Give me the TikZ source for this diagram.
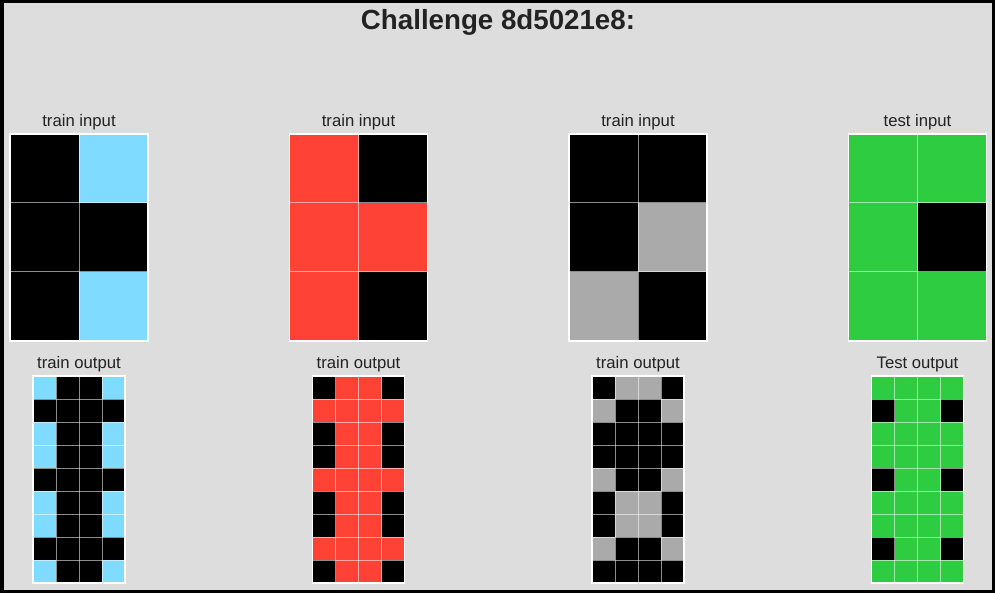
\documentclass[tikz,border=0pt]{standalone}
\usepackage{fontspec}
\setmainfont{Liberation Sans}
\definecolor{bgc}{HTML}{DDDDDD}
\definecolor{txt}{HTML}{222222}
\definecolor{cK}{HTML}{000000}
\definecolor{cB}{HTML}{7FDBFF}
\definecolor{cR}{HTML}{FF4136}
\definecolor{cG}{HTML}{AAAAAA}
\definecolor{cN}{HTML}{2ECC40}
\tikzset{
  lbl/.style={text=txt, font=\fontsize{16.7}{19}\selectfont, anchor=base, inner sep=0pt},
  ttl/.style={text=txt, font=\fontsize{27.7}{31}\selectfont\bfseries, anchor=base, inner sep=0pt},
  gridln/.style={draw=white, draw opacity=0.55, line width=1pt},
  gridbd/.style={draw=white, line width=1.5pt},
}
% \drawgrid{x0}{y0}{cell}{ncols}{nrows}{rows}
\newcommand{\drawgrid}[6]{%
  \foreach \rw [count=\r from 0] in {#6}{%
    \foreach \cl [count=\c from 0] in \rw{%
      \fill[\cl] ({#1+\c*#3},{#2+\r*#3}) rectangle ++(#3,#3);
    }
  }
  \foreach \i in {1,...,\numexpr#4-1\relax}{\draw[gridln] ({#1+\i*#3},#2) -- ++(0,{#5*#3});}
  \foreach \j in {1,...,\numexpr#5-1\relax}{\draw[gridln] (#1,{#2+\j*#3}) -- ++({#4*#3},0);}
  \draw[gridbd] (#1,#2) rectangle ++({#4*#3},{#5*#3});
}
\begin{document}
\begin{tikzpicture}[x=1pt,y=-1pt]
\fill[bgc] (0,0) rectangle (995,593);
\draw[black, line width=3.5pt] (1.75,1.75) rectangle (993.25,591.25);
\useasboundingbox (0,0) rectangle (995,593);
\node[ttl] (title) at (498,29.5) {Challenge 8d5021e8:};
% inputs
\node[lbl] (l1) at (79,126.5) {train input};
\node[lbl] (l2) at (358.5,126.5) {train input};
\node[lbl] (l3) at (638,126.5) {train input};
\node[lbl] (l4) at (917.5,126.5) {test input};
\drawgrid{10}{134}{69}{2}{3}{{cK,cB},{cK,cK},{cK,cB}}
\drawgrid{289.5}{134}{69}{2}{3}{{cR,cK},{cR,cR},{cR,cK}}
\drawgrid{569}{134}{69}{2}{3}{{cK,cK},{cK,cG},{cG,cK}}
\drawgrid{848.5}{134}{69}{2}{3}{{cN,cN},{cN,cK},{cN,cN}}
% outputs
\node[lbl] (o1) at (79,368.5) {train output};
\node[lbl] (o2) at (358.5,368.5) {train output};
\node[lbl] (o3) at (638,368.5) {train output};
\node[lbl] (o4) at (917.5,368.5) {Test output};
\drawgrid{33}{376}{23}{4}{9}{{cB,cK,cK,cB},{cK,cK,cK,cK},{cB,cK,cK,cB},{cB,cK,cK,cB},{cK,cK,cK,cK},{cB,cK,cK,cB},{cB,cK,cK,cB},{cK,cK,cK,cK},{cB,cK,cK,cB}}
\drawgrid{312.5}{376}{23}{4}{9}{{cK,cR,cR,cK},{cR,cR,cR,cR},{cK,cR,cR,cK},{cK,cR,cR,cK},{cR,cR,cR,cR},{cK,cR,cR,cK},{cK,cR,cR,cK},{cR,cR,cR,cR},{cK,cR,cR,cK}}
\drawgrid{592}{376}{23}{4}{9}{{cK,cG,cG,cK},{cG,cK,cK,cG},{cK,cK,cK,cK},{cK,cK,cK,cK},{cG,cK,cK,cG},{cK,cG,cG,cK},{cK,cG,cG,cK},{cG,cK,cK,cG},{cK,cK,cK,cK}}
\drawgrid{871.5}{376}{23}{4}{9}{{cN,cN,cN,cN},{cK,cN,cN,cK},{cN,cN,cN,cN},{cN,cN,cN,cN},{cK,cN,cN,cK},{cN,cN,cN,cN},{cN,cN,cN,cN},{cK,cN,cN,cK},{cN,cN,cN,cN}}
\end{tikzpicture}
\end{document}
